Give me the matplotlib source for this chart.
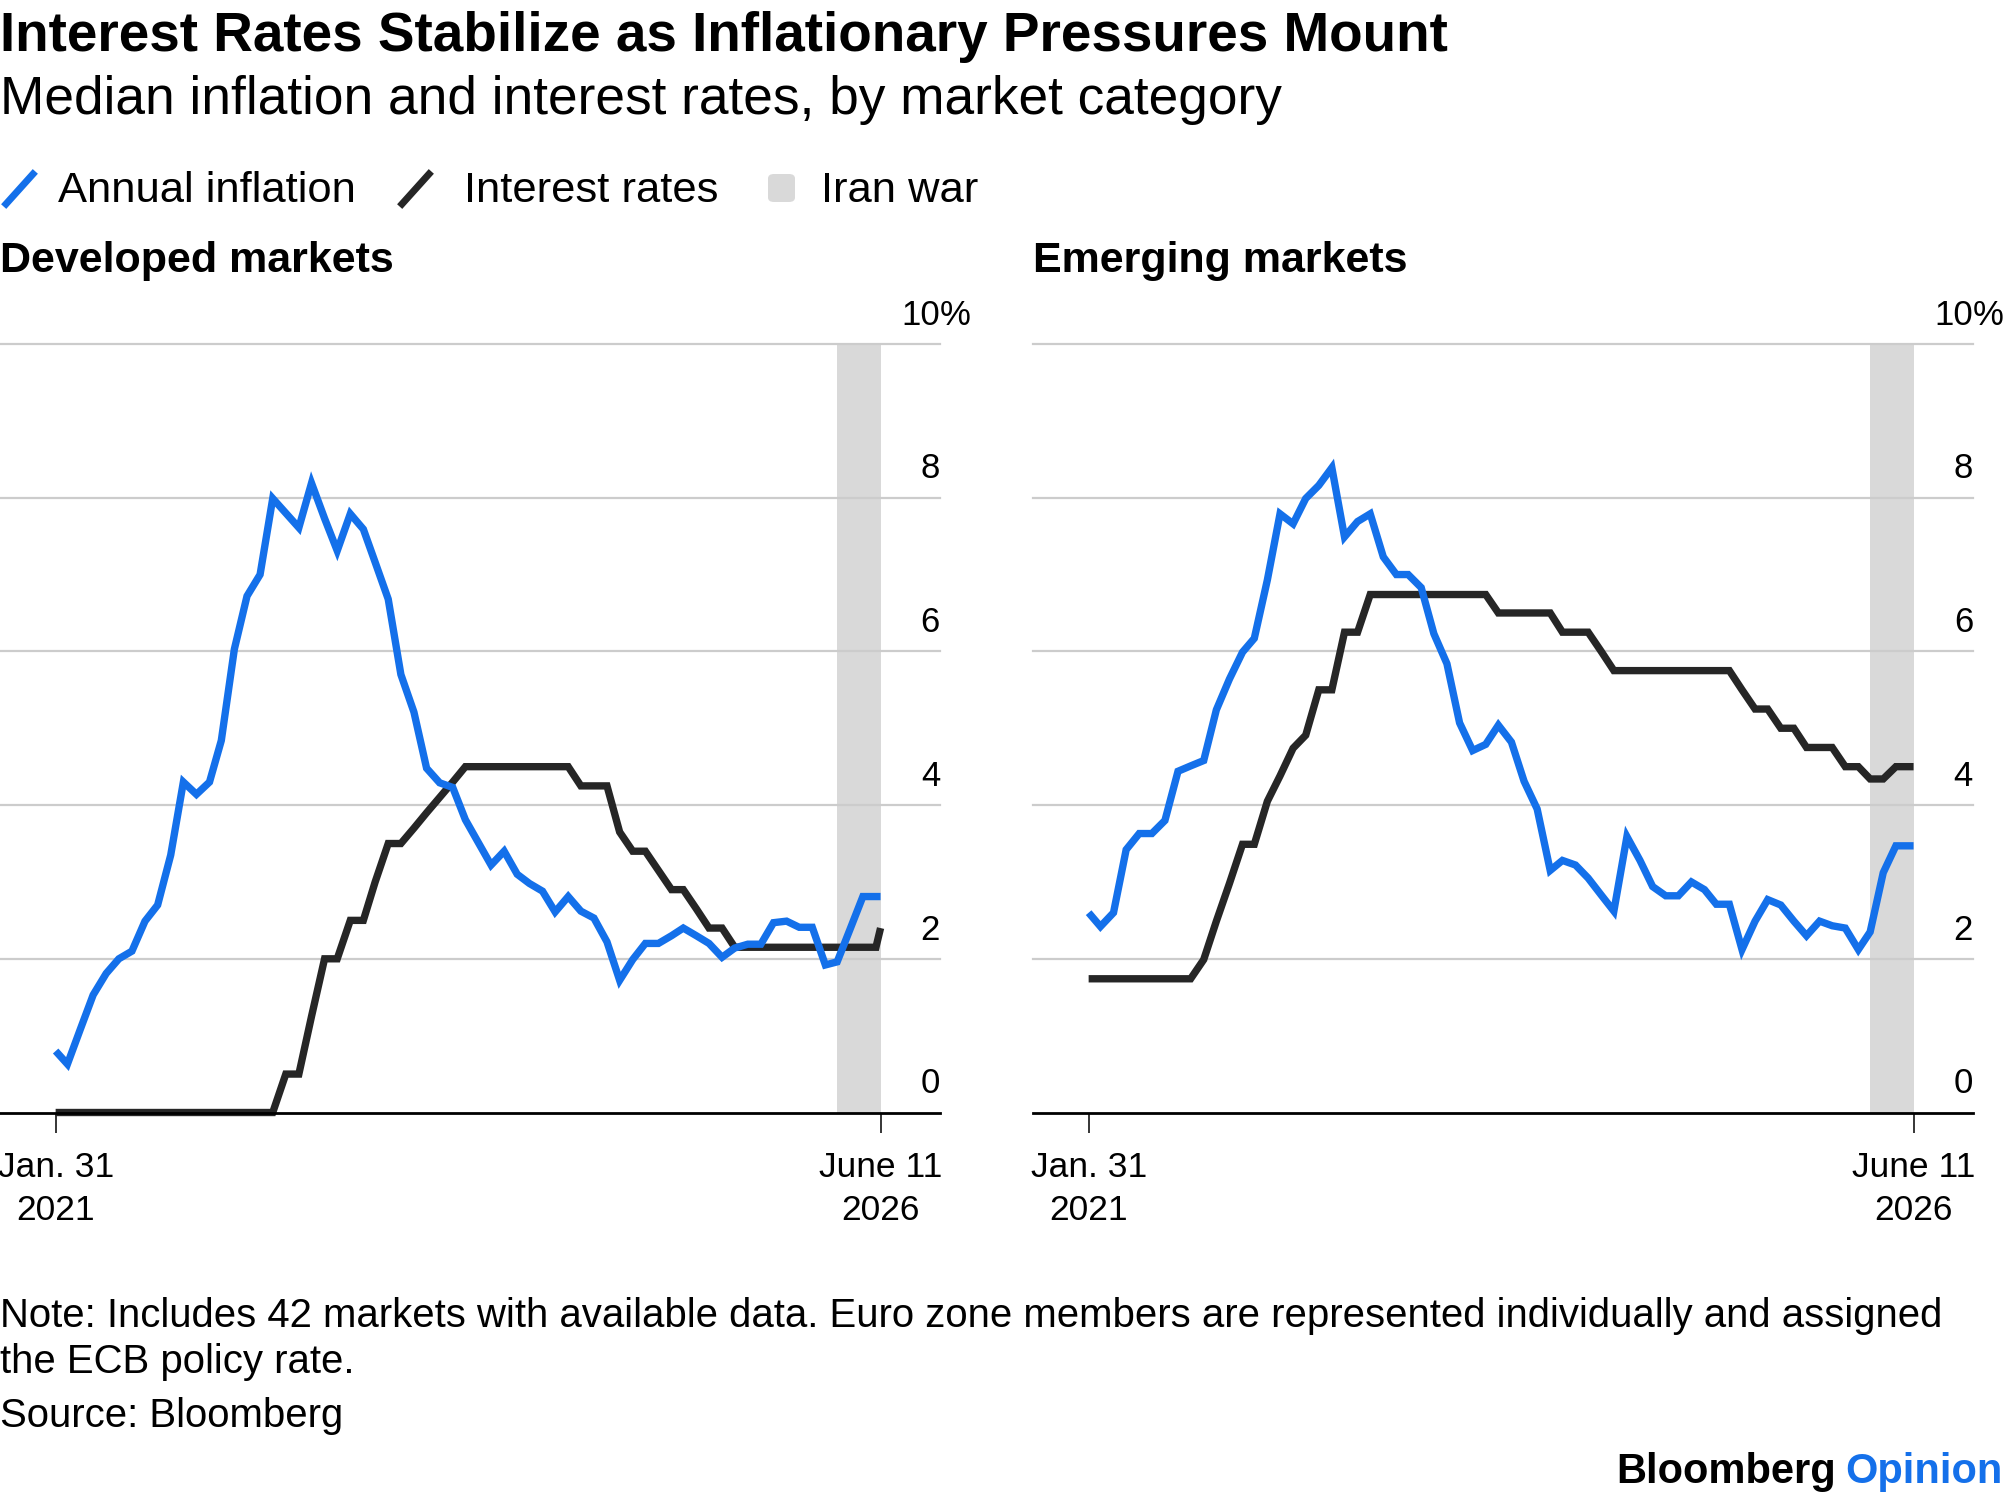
import numpy as np
import pandas as pd
import matplotlib
matplotlib.use("Agg")
import matplotlib.pyplot as plt
import matplotlib.transforms as mtransforms
from matplotlib.lines import Line2D
from matplotlib.patches import FancyBboxPatch

plt.rcParams['font.family'] = ['Liberation Sans', 'DejaVu Sans']

# ----------------------------------------------------------------------
# data, month ends Jan 2021 .. May 2026 + June 11 2026
month_ends = pd.date_range('2021-01-31', periods=65, freq=pd.offsets.MonthEnd())
dates = month_ends.append(pd.DatetimeIndex(['2026-06-11']))
war_start = pd.Timestamp('2026-02-28')

dm_inflation = [0.80, 0.63, 1.09, 1.53, 1.81, 2.00, 2.10, 2.49, 2.70, 3.35,
                4.30, 4.14, 4.30, 4.84, 6.03, 6.72, 7.00, 7.99, 7.80, 7.61,
                8.19, 7.73, 7.31, 7.79, 7.59, 7.16, 6.68, 5.70, 5.21, 4.48,
                4.29, 4.23, 3.81, 3.51, 3.22, 3.40, 3.10, 2.98, 2.88, 2.61,
                2.81, 2.62, 2.53, 2.22, 1.72, 1.99, 2.20, 2.20, 2.30, 2.40,
                2.30, 2.20, 2.02, 2.14, 2.19, 2.19, 2.47, 2.49, 2.41, 2.41,
                1.92, 1.96, 2.39, 2.81, 2.81, 2.81]
dm_rates = [0.00, 0.00, 0.00, 0.00, 0.00, 0.00, 0.00, 0.00, 0.00, 0.00,
            0.00, 0.00, 0.00, 0.00, 0.00, 0.00, 0.00, 0.00, 0.50, 0.50,
            1.25, 2.00, 2.00, 2.50, 2.50, 3.00, 3.50, 3.50, 3.70, 3.90,
            4.10, 4.30, 4.50, 4.50, 4.50, 4.50, 4.50, 4.50, 4.50, 4.50,
            4.50, 4.25, 4.25, 4.25, 3.65, 3.40, 3.40, 3.15, 2.90, 2.90,
            2.65, 2.40, 2.40, 2.15, 2.15, 2.15, 2.15, 2.15, 2.15, 2.15,
            2.15, 2.15, 2.15, 2.15, 2.15, 2.40]
em_inflation = [2.60, 2.42, 2.60, 3.42, 3.63, 3.63, 3.80, 4.44, 4.51, 4.58,
                5.24, 5.64, 5.99, 6.17, 6.93, 7.79, 7.66, 7.99, 8.16, 8.39,
                7.49, 7.69, 7.79, 7.23, 7.00, 7.00, 6.83, 6.23, 5.84, 5.07,
                4.71, 4.79, 5.04, 4.82, 4.31, 3.95, 3.15, 3.28, 3.22, 3.05,
                2.83, 2.62, 3.59, 3.28, 2.94, 2.82, 2.82, 3.00, 2.90, 2.71,
                2.71, 2.12, 2.49, 2.77, 2.70, 2.49, 2.30, 2.49, 2.43, 2.40,
                2.12, 2.35, 3.12, 3.47, 3.47, 3.47]
em_rates = [1.74, 1.74, 1.74, 1.74, 1.74, 1.74, 1.74, 1.74, 1.74, 1.99,
            2.49, 2.98, 3.49, 3.49, 4.05, 4.38, 4.74, 4.91, 5.50, 5.50,
            6.25, 6.25, 6.74, 6.74, 6.74, 6.74, 6.74, 6.74, 6.74, 6.74,
            6.74, 6.74, 6.50, 6.50, 6.50, 6.50, 6.50, 6.25, 6.25, 6.25,
            6.00, 5.75, 5.75, 5.75, 5.75, 5.75, 5.75, 5.75, 5.75, 5.75,
            5.75, 5.50, 5.25, 5.25, 5.00, 5.00, 4.75, 4.75, 4.75, 4.50,
            4.50, 4.34, 4.34, 4.50, 4.50, 4.50]

y_ticks = [0, 2, 4, 6, 8, 10]
x_tick_labels = ['Jan. 31\n2021', 'June 11\n2026']

BLUE = '#1470ea'
BLACK = '#262626'
GRID = '#cccccc'
SHADE = '#d9d9d9'

W, H = 2005, 1497
fig = plt.figure(figsize=(W / 100, H / 100), dpi=100)


def fx(px):
    return px / W


def fy(py):
    return 1 - py / H


def draw_panel(ax, inflation, rates, title, title_x):
    ax.axvspan(war_start, dates[-1], color=SHADE, lw=0, zorder=0.5)
    for v in y_ticks[1:]:
        ax.axhline(v, color=GRID, lw=1.6, zorder=1, clip_on=False)
    ax.plot(dates, rates, color=BLACK, lw=5.3, zorder=3, clip_on=False,
            solid_joinstyle='miter', solid_capstyle='butt')
    ax.plot(dates, inflation, color=BLUE, lw=5.3, zorder=4, clip_on=False,
            solid_joinstyle='miter', solid_capstyle='butt')

    ax.set_ylim(0, 10)
    ax.set_xlim(dates[0] - pd.Timedelta(days=132), dates[-1] + pd.Timedelta(days=141))
    for s in ['top', 'left', 'right']:
        ax.spines[s].set_visible(False)
    ax.spines['bottom'].set_linewidth(2.0)
    ax.spines['bottom'].set_color('black')
    ax.spines['bottom'].set_zorder(5)

    ax.set_xticks([dates[0], dates[-1]])
    ax.set_xticklabels(x_tick_labels, linespacing=1.38)
    ax.tick_params(axis='x', length=14.5, width=1.1, pad=13, labelsize=25.5,
                   color='black', direction='out')
    ax.set_yticks([])

    trans = mtransforms.blended_transform_factory(ax.transAxes, ax.transData)
    for v in y_ticks:
        ax.text(1.0, v + 0.25, str(v), transform=trans, ha='right', va='baseline',
                fontsize=25, color='black')
    ax.text(1.0, y_ticks[-1] + 0.25, '%', transform=trans, ha='left', va='baseline',
            fontsize=25, color='black')

    fig.text(fx(title_x), fy(272), title, fontsize=31, fontweight='bold',
             ha='left', va='baseline')


ax_dm = fig.add_axes([fx(0), fy(1112.5), fx(940), (1112.5 - 344) / H])
ax_em = fig.add_axes([fx(1033), fy(1112.5), fx(940), (1112.5 - 344) / H])
draw_panel(ax_dm, dm_inflation, dm_rates, 'Developed markets', 0)
draw_panel(ax_em, em_inflation, em_rates, 'Emerging markets', 1033)

# titles
fig.text(0.0, fy(51), 'Interest Rates Stabilize as Inflationary Pressures Mount',
         fontsize=39.5, fontweight='bold', ha='left', va='baseline')
fig.text(0.0, fy(114), 'Median inflation and interest rates, by market category',
         fontsize=38.3, ha='left', va='baseline')

# legend
fig.add_artist(Line2D([fx(6), fx(33)], [fy(204), fy(174)], color=BLUE, lw=5,
                      transform=fig.transFigure))
fig.text(fx(58), fy(202), 'Annual inflation', fontsize=31.3, ha='left', va='baseline')
fig.add_artist(Line2D([fx(402), fx(429)], [fy(204), fy(174)], color=BLACK, lw=5,
                      transform=fig.transFigure))
fig.text(fx(464), fy(202), 'Interest rates', fontsize=31.3, ha='left', va='baseline')
fig.add_artist(FancyBboxPatch((fx(768), fy(202)), fx(27), (202 - 174) / H,
                              boxstyle='round,pad=0,rounding_size=0.003',
                              facecolor=SHADE, edgecolor='none',
                              transform=fig.transFigure))
fig.text(fx(821), fy(202), 'Iran war', fontsize=31.3, ha='left', va='baseline')

# notes
fig.text(0.0, fy(1327), 'Note: Includes 42 markets with available data. Euro zone members '
         'are represented individually and assigned', fontsize=28.9, ha='left', va='baseline')
fig.text(0.0, fy(1373), 'the ECB policy rate.', fontsize=28.9, ha='left', va='baseline')
fig.text(0.0, fy(1427), 'Source: Bloomberg', fontsize=28.9, ha='left', va='baseline')

t_op = fig.text(fx(2003), fy(1483), 'Opinion', fontsize=30, fontweight='bold',
                color=BLUE, ha='right', va='baseline')
fig.canvas.draw()
bb = t_op.get_window_extent()
fig.text(fx(bb.x0 - 10), fy(1483), 'Bloomberg', fontsize=30, fontweight='bold',
         color='black', ha='right', va='baseline')

fig.savefig('out.png', dpi=100)
